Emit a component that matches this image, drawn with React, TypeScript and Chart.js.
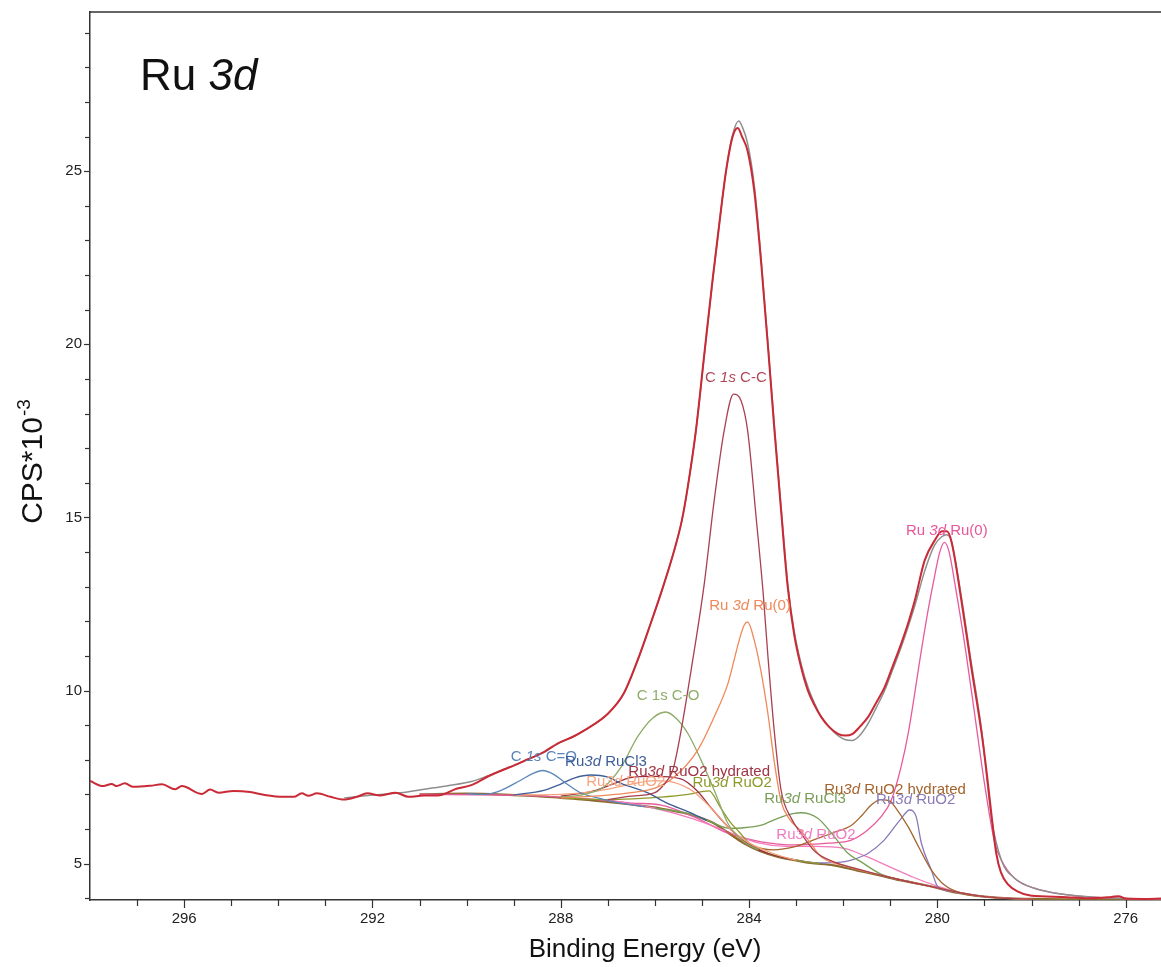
import React, { useEffect, useRef } from 'react';
import { Chart, registerables } from 'chart.js';

Chart.register(...registerables);

const FONT = '"Liberation Sans", Arial, Helvetica, sans-serif';

// ---- axes ----
const X_MIN = 275.25;
const X_MAX = 298;
const Y_MIN = 3.95;
const Y_MAX = 29.6;
const xTickValues = [296, 292, 288, 284, 280, 276];
const yTickValues = [5, 10, 15, 20, 25];
const xTitle = 'Binding Energy (eV)';
const yTitleMain = 'CPS*10';
const yTitleSup = '-3';
const chartTitle = ['Ru ', '3d'];

// ---- measured data (binding energy eV, CPS*1e-3) ----
const rawData = [
  [298.0, 7.39], [297.72, 7.24], [297.54, 7.30], [297.43, 7.24], [297.26, 7.32], [297.08, 7.22],
  [296.72, 7.25], [296.47, 7.29], [296.19, 7.15], [296.05, 7.24], [295.62, 7.01], [295.45, 7.14],
  [295.27, 7.05], [294.95, 7.10], [294.6, 7.07], [294.31, 6.99], [293.89, 6.93], [293.67, 6.93],
  [293.5, 7.03], [293.36, 6.96], [293.18, 7.03], [292.89, 6.93], [292.61, 6.85], [292.33, 6.93],
  [292.11, 7.03], [291.83, 6.97], [291.51, 7.05], [291.23, 6.93], [290.91, 6.97], [290.62, 6.97],
  [290.2, 7.17], [289.9, 7.27], [289.56, 7.51], [289.21, 7.72], [288.99, 7.84], [288.71, 8.01],
  [288.35, 8.23], [288.07, 8.47], [287.72, 8.68], [287.5, 8.85], [287.0, 9.33], [286.66, 9.92],
  [286.37, 10.87], [286.1, 11.9], [285.85, 12.9], [285.6, 14.0], [285.43, 14.9], [285.3, 15.9],
  [285.13, 17.5], [284.95, 19.73], [284.77, 21.93], [284.6, 23.85], [284.49, 25.0], [284.35, 26.0],
  [284.24, 26.25], [284.15, 26.0], [284.03, 25.58], [283.89, 24.43], [283.74, 22.3], [283.57, 19.44],
  [283.46, 17.5], [283.32, 15.2], [283.18, 13.0], [283.04, 11.6], [282.9, 10.7], [282.75, 10.0],
  [282.6, 9.55], [282.47, 9.24], [282.3, 8.95], [282.11, 8.75], [281.95, 8.7], [281.8, 8.75],
  [281.65, 8.95], [281.47, 9.24], [281.3, 9.65], [281.12, 10.1], [280.95, 10.7], [280.77, 11.35],
  [280.62, 11.95], [280.48, 12.6], [280.27, 13.76], [280.06, 14.33], [279.9, 14.6], [279.8, 14.6],
  [279.7, 14.3], [279.49, 12.6], [279.28, 10.68], [279.06, 8.76], [278.95, 7.6], [278.85, 6.4],
  [278.75, 5.3], [278.65, 4.75], [278.5, 4.4], [278.3, 4.2], [278.0, 4.07], [277.36, 4.04],
  [276.8, 4.0], [276.3, 4.04], [276.15, 4.06], [276.0, 3.99], [275.6, 3.98], [275.25, 3.99],
];

const envelopeData = [
  [292.6, 6.9], [292.0, 6.98], [291.4, 7.05], [290.9, 7.15], [290.4, 7.25], [289.9, 7.37],
  [289.56, 7.53], [289.21, 7.72], [288.99, 7.84], [288.71, 8.0], [288.35, 8.22], [288.07, 8.46],
  [287.72, 8.68], [287.5, 8.85], [287.0, 9.33], [286.66, 9.92], [286.37, 10.85], [286.1, 11.9],
  [285.85, 12.9], [285.6, 14.0], [285.43, 14.9], [285.3, 15.9], [285.13, 17.5], [284.95, 19.7],
  [284.77, 21.9], [284.6, 23.85], [284.49, 25.0], [284.35, 26.05], [284.22, 26.45], [284.15, 26.3],
  [284.03, 25.8], [283.89, 24.6], [283.74, 22.4], [283.57, 19.5], [283.46, 17.6], [283.32, 15.3],
  [283.18, 13.1], [283.04, 11.7], [282.9, 10.8], [282.75, 10.1], [282.6, 9.6], [282.47, 9.25],
  [282.3, 8.95], [282.11, 8.7], [281.95, 8.58], [281.8, 8.56], [281.65, 8.7], [281.47, 9.05],
  [281.3, 9.5], [281.12, 10.0], [280.95, 10.6], [280.77, 11.25], [280.62, 11.85], [280.48, 12.45],
  [280.27, 13.45], [280.06, 14.2], [279.9, 14.45], [279.8, 14.5], [279.7, 14.3], [279.49, 12.7],
  [279.28, 10.8], [279.06, 8.85], [278.85, 6.3], [278.64, 5.1], [278.36, 4.58], [277.94, 4.29],
  [277.36, 4.12], [276.66, 4.03], [276.0, 3.99], [275.25, 3.98],
];

const backgroundData = [
  [291.0, 7.0], [290.0, 7.02], [289.0, 6.98], [288.5, 6.95], [288.0, 6.9], [287.5, 6.85],
  [287.0, 6.78], [286.4, 6.69], [285.9, 6.6], [285.6, 6.52], [285.2, 6.4], [284.8, 6.2],
  [284.4, 5.85], [284.1, 5.58], [283.8, 5.38], [283.4, 5.2], [283.0, 5.09], [282.7, 5.02],
  [282.2, 4.95], [281.7, 4.8], [281.2, 4.65], [280.8, 4.52], [280.4, 4.42], [280.0, 4.3],
  [279.7, 4.19], [279.3, 4.1], [279.0, 4.05], [278.5, 4.0], [278.0, 3.98], [277.0, 3.97], [275.3, 3.96],
];

const c1sCC = [
  [287.0, 6.85], [286.5, 6.95], [286.0, 7.05], [285.8, 7.3], [285.62, 7.7], [285.45, 8.8],
  [285.23, 10.6], [284.96, 13.0], [284.74, 15.5], [284.53, 17.5], [284.33, 18.56], [284.17, 18.37],
  [284.03, 17.5], [283.85, 15.0], [283.7, 12.8], [283.6, 11.0], [283.46, 8.76], [283.32, 7.12],
  [283.1, 6.3], [282.9, 5.88], [282.6, 5.35], [282.2, 5.05], [281.7, 4.85], [281.0, 4.6],
  [280.0, 4.3], [279.0, 4.05], [278.0, 3.97],
];

const ru3dRu0Orange = [
  [288.0, 6.9], [287.0, 6.98], [286.5, 7.05], [286.0, 7.18], [285.59, 7.5], [285.09, 8.28],
  [284.74, 9.24], [284.45, 10.2], [284.32, 10.87], [284.2, 11.5], [284.1, 11.9], [284.03, 11.98],
  [283.89, 11.45], [283.74, 10.5], [283.6, 9.33], [283.46, 7.9], [283.32, 6.8], [283.15, 6.3],
  [282.9, 5.95], [282.7, 5.6], [282.47, 5.2], [282.0, 4.95], [281.0, 4.6], [280.0, 4.3],
  [279.0, 4.05], [278.0, 3.97],
];

const c1sCO = [
  [288.0, 6.92], [287.5, 7.0], [287.08, 7.22], [286.72, 7.79], [286.37, 8.66], [286.05, 9.2],
  [285.77, 9.38], [285.55, 9.2], [285.3, 8.76], [285.02, 7.99], [284.74, 7.12], [284.45, 6.16],
  [284.1, 5.62], [283.8, 5.4],
];

const c1sCdO = [
  [290.0, 7.02], [289.6, 7.0], [289.35, 7.07], [288.85, 7.41], [288.6, 7.6], [288.39, 7.69],
  [288.15, 7.58], [287.93, 7.36], [287.57, 7.04], [287.22, 6.9], [286.8, 6.76], [286.2, 6.65],
];

const ru3dRuCl3Blue = [
  [289.0, 6.98], [288.36, 7.12], [288.0, 7.3], [287.7, 7.48], [287.36, 7.56], [287.0, 7.5],
  [286.72, 7.32], [286.16, 7.05], [285.73, 6.74], [285.3, 6.5], [284.9, 6.25],
];

const ru3dRuO2Salmon = [
  [289.0, 6.98], [288.0, 7.0], [287.5, 7.05], [287.0, 7.15], [286.5, 7.3], [286.0, 7.4],
  [285.6, 7.35], [285.2, 7.1], [284.8, 6.6], [284.4, 6.0], [284.0, 5.6], [283.5, 5.3], [283.0, 5.1],
];

const ru3dRuO2HydMaroon = [
  [288.0, 6.95], [287.3, 7.1], [286.8, 7.35], [286.55, 7.48], [286.0, 7.52], [285.45, 7.45],
  [285.1, 7.1], [284.8, 6.6], [284.4, 6.0], [284.0, 5.55], [283.5, 5.25], [283.0, 5.1],
];

const ru3dRuO2Olive = [
  [288.0, 6.9], [287.0, 6.85], [286.37, 6.88], [285.87, 6.92], [285.3, 7.0], [284.85, 7.1],
  [284.62, 6.65], [284.4, 6.2], [284.2, 5.9], [284.0, 5.6], [283.7, 5.35], [283.0, 5.1], [282.5, 5.0],
];

const ru3dRuCl3Green = [
  [286.0, 6.6], [285.3, 6.45], [284.8, 6.2], [284.4, 6.02], [284.17, 6.03], [283.74, 6.11],
  [283.39, 6.31], [283.04, 6.45], [282.9, 6.47], [282.54, 6.31], [282.19, 5.78], [281.9, 5.3],
  [281.62, 5.05], [281.2, 4.7], [280.5, 4.45],
];

const ru3dRuO2HydBrown = [
  [284.5, 5.95], [284.0, 5.55], [283.5, 5.4], [283.0, 5.5], [282.6, 5.7], [282.2, 5.9],
  [281.83, 6.1], [281.6, 6.4], [281.4, 6.7], [281.2, 6.85], [281.0, 6.8], [280.9, 6.64],
  [280.62, 6.06], [280.4, 5.49], [280.13, 4.82], [279.85, 4.38], [279.5, 4.15], [279.0, 4.05], [278.0, 3.97],
];

const ru3dRuO2Purple = [
  [283.0, 5.1], [282.5, 5.02], [282.0, 5.05], [281.83, 5.1], [281.47, 5.3], [281.13, 5.68],
  [280.77, 6.3], [280.59, 6.55], [280.45, 6.35], [280.34, 5.59], [280.13, 4.82], [279.99, 4.33],
  [279.7, 4.2], [279.3, 4.1], [279.0, 4.05],
];

const ru3dRuO2Pink = [
  [287.0, 6.85], [286.0, 6.6], [285.2, 6.3], [284.5, 5.95], [283.8, 5.6], [283.2, 5.5],
  [282.6, 5.5], [282.0, 5.45], [281.5, 5.2], [281.0, 4.9], [280.5, 4.6], [280.0, 4.35],
  [279.5, 4.15], [279.0, 4.05], [278.0, 3.97],
];

const ru3dRu0Pink = [
  [291.0, 7.0], [289.0, 6.98], [287.5, 6.88], [286.5, 6.75], [285.87, 6.69], [285.17, 6.35],
  [284.45, 5.88], [283.74, 5.63], [283.04, 5.54], [282.32, 5.59], [281.83, 5.68], [281.5, 5.95],
  [281.2, 6.35], [280.98, 6.83], [280.77, 7.8], [280.62, 8.76], [280.34, 11.16], [280.2, 12.3],
  [280.06, 13.3], [279.95, 14.0], [279.85, 14.28], [279.75, 14.0], [279.63, 13.1], [279.4, 11.16],
  [279.2, 9.24], [279.0, 7.32], [278.78, 5.59], [278.64, 5.1], [278.36, 4.58], [277.94, 4.29],
  [277.36, 4.12], [276.66, 4.03], [276.0, 3.99], [275.25, 3.98],
];

// ---- peak labels (text with *italic* parts, anchor in data units) ----
const labelTexts = [
  'C *1s* C-C', 'Ru *3d* Ru(0)', 'C 1s C-O', 'C *1s* C=O', 'Ru*3d* RuCl3', 'Ru*3d* RuO2',
  'Ru*3d* RuO2 hydrated', 'Ru*3d* RuO2', 'Ru*3d* RuCl3', 'Ru*3d* RuO2 hydrated', 'Ru*3d* RuO2',
  'Ru*3d* RuO2', 'Ru *3d* Ru(0)',
];
const labelEV = [284.28, 283.98, 285.72, 288.36, 287.04, 286.62, 285.06, 284.36, 282.81, 280.9, 280.46, 282.58, 279.8];
const labelCPS = [19.03, 12.44, 9.84, 8.08, 7.94, 7.36, 7.65, 7.33, 6.87, 7.13, 6.84, 5.83, 14.61];
const labelColors = [
  '#b04858', '#f0885a', '#8fac6a', '#5a84b6', '#3c5c98', '#f6a680',
  '#a03444', '#8c9a2a', '#7a9e58', '#a4642c', '#8a7ab8', '#f07ac0', '#e8559a',
];

const components = [
  { data: c1sCC, color: '#a8404f' },
  { data: ru3dRu0Orange, color: '#f0885a' },
  { data: c1sCO, color: '#8cab66' },
  { data: c1sCdO, color: '#5b86b8' },
  { data: ru3dRuCl3Blue, color: '#3f5f98' },
  { data: ru3dRuO2Salmon, color: '#f5a27c' },
  { data: ru3dRuO2HydMaroon, color: '#9e2e42' },
  { data: ru3dRuO2Olive, color: '#8f9a2c' },
  { data: ru3dRuCl3Green, color: '#78a058' },
  { data: ru3dRuO2HydBrown, color: '#a5652d' },
  { data: ru3dRuO2Purple, color: '#8878b8' },
  { data: ru3dRuO2Pink, color: '#f27cbc' },
  { data: ru3dRu0Pink, color: '#e85a9c' },
];

const toPoints = (arr: number[][]) => arr.map(([x, y]) => ({ x, y }));

function drawRich(ctx: CanvasRenderingContext2D, text: string, cx: number, cy: number, size: number, color: string) {
  const parts = text.split('*');
  const fonts = parts.map((_, i) => `${i % 2 ? 'italic ' : ''}${size}px ${FONT}`);
  let total = 0;
  parts.forEach((p, i) => { ctx.font = fonts[i]; total += ctx.measureText(p).width; });
  let xx = cx - total / 2;
  ctx.fillStyle = color;
  ctx.textAlign = 'left';
  ctx.textBaseline = 'middle';
  parts.forEach((p, i) => { ctx.font = fonts[i]; ctx.fillText(p, xx, cy); xx += ctx.measureText(p).width; });
}

const decorPlugin = {
  id: 'xpsDecor',
  afterDraw(chart: any) {
    const { ctx, chartArea: ca, scales } = chart;
    const x = scales.x;
    const y = scales.y;
    ctx.save();
    ctx.strokeStyle = '#333';
    ctx.lineWidth = 1.5;
    ctx.beginPath();
    ctx.moveTo(ca.left, ca.top);
    ctx.lineTo(ca.right, ca.top);
    ctx.stroke();

    ctx.lineWidth = 1.2;
    for (let v = 276; v <= 297; v++) {
      const px = Math.round(x.getPixelForValue(v)) + 0.5;
      const len = xTickValues.includes(v) ? 8 : 6;
      ctx.beginPath();
      ctx.moveTo(px, ca.bottom);
      ctx.lineTo(px, ca.bottom + len);
      ctx.stroke();
    }
    for (let v = 4; v <= 29; v++) {
      const py = Math.round(y.getPixelForValue(v)) + 0.5;
      const len = yTickValues.includes(v) ? 6 : 5;
      ctx.beginPath();
      ctx.moveTo(ca.left - len, py);
      ctx.lineTo(ca.left, py);
      ctx.stroke();
    }

    // peak labels
    labelTexts.forEach((t, i) => {
      drawRich(ctx, t, x.getPixelForValue(labelEV[i]), y.getPixelForValue(labelCPS[i]), 15, labelColors[i]);
    });

    // chart title
    ctx.fillStyle = '#111';
    ctx.textBaseline = 'alphabetic';
    ctx.textAlign = 'left';
    ctx.font = `44px ${FONT}`;
    ctx.fillText(chartTitle[0], 140, 90);
    const w0 = ctx.measureText(chartTitle[0]).width;
    ctx.font = `italic 44px ${FONT}`;
    ctx.fillText(chartTitle[1], 140 + w0, 90);

    // x title
    ctx.font = `26px ${FONT}`;
    ctx.textAlign = 'center';
    ctx.fillText(xTitle, 645, 957);

    // y title (rotated, with superscript)
    ctx.save();
    ctx.translate(42, 462);
    ctx.rotate(-Math.PI / 2);
    ctx.font = `30px ${FONT}`;
    const wm = ctx.measureText(yTitleMain).width;
    ctx.font = `19px ${FONT}`;
    const ws = ctx.measureText(yTitleSup).width;
    const start = -(wm + ws) / 2;
    ctx.textAlign = 'left';
    ctx.font = `30px ${FONT}`;
    ctx.fillText(yTitleMain, start, 0);
    ctx.font = `19px ${FONT}`;
    ctx.fillText(yTitleSup, start + wm + 1, -12);
    ctx.restore();

    ctx.restore();
  },
};

export default function App() {
  const ref = useRef<HTMLCanvasElement | null>(null);
  useEffect(() => {
    document.body.style.margin = '0';
    const canvas = ref.current;
    if (!canvas) return;
    const datasets: any[] = [
      { data: toPoints(rawData), borderColor: '#c92a36', borderWidth: 2 },
      { data: toPoints(envelopeData), borderColor: '#8e8e8e', borderWidth: 1.5 },
      ...components.map((c) => ({ data: toPoints(c.data), borderColor: c.color, borderWidth: 1.3 })),
      { data: toPoints(backgroundData), borderColor: '#8a6a2e', borderWidth: 2.2 },
    ];
    const chart = new Chart(canvas, {
      type: 'line',
      data: { datasets },
      options: {
        responsive: false,
        animation: false,
        parsing: false as any,
        layout: { padding: { top: 12, left: 0, right: 0, bottom: 0 } },
        plugins: { legend: { display: false }, tooltip: { enabled: false }, title: { display: false } },
        elements: {
          point: { radius: 0 },
          line: { cubicInterpolationMode: 'monotone', fill: false, borderJoinStyle: 'round' },
        },
        scales: {
          x: {
            type: 'linear',
            reverse: true,
            min: X_MIN,
            max: X_MAX,
            grid: { display: false, drawTicks: true, tickLength: 8 },
            border: { display: true, color: '#333', width: 1.5 },
            ticks: { font: { family: FONT, size: 15 }, color: '#222', padding: 2, maxRotation: 0, autoSkip: false },
            afterBuildTicks: (s: any) => { s.ticks = xTickValues.map((value) => ({ value })); },
            afterFit: (s: any) => { s.height = 67; },
          },
          y: {
            type: 'linear',
            min: Y_MIN,
            max: Y_MAX,
            grid: { display: false, drawTicks: true, tickLength: 6 },
            border: { display: true, color: '#333', width: 1.5 },
            ticks: { font: { family: FONT, size: 15 }, color: '#222', padding: 2 },
            afterBuildTicks: (s: any) => { s.ticks = yTickValues.map((value) => ({ value })); },
            afterFit: (s: any) => { s.width = 90; },
          },
        },
      } as any,
      plugins: [decorPlugin],
    });
    return () => chart.destroy();
  }, []);
  return <canvas ref={ref} width={1161} height={967} style={{ display: 'block' }} />;
}
